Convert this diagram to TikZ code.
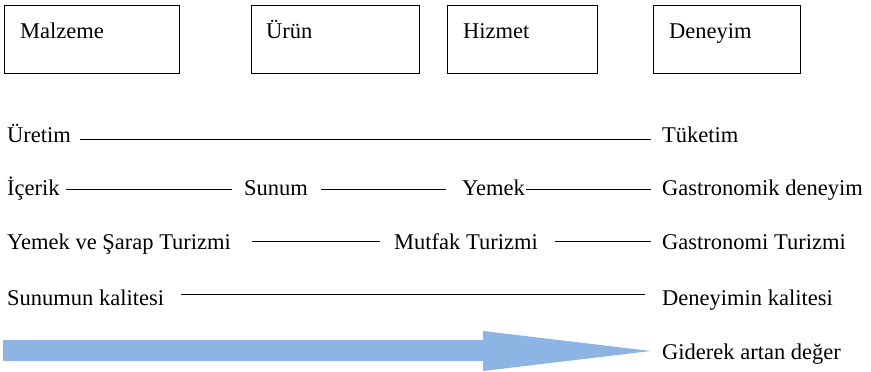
\documentclass[tikz,border=0pt]{standalone}
\usepackage{fontspec}
\setmainfont{Liberation Serif}
\begin{document}
\begin{tikzpicture}[x=1pt,y=-1pt,
  every node/.style={font=\fontsize{22.5}{26}\selectfont, inner sep=0pt, text height=15pt, text depth=4pt},
  stagebox/.style={draw, line width=1.1pt, minimum width=#1, minimum height=68pt, anchor=north west},
  lbl/.style={anchor=base west},
  rule/.style={line width=1.3pt},
  valuearrow/.style={fill={rgb,255:red,142;green,180;blue,227}, draw=none}
]
\useasboundingbox (0,0) rectangle (871,372);

% Stage boxes
\node[stagebox=175pt] (bMalzeme) at (4,5) {};
\node[stagebox=168pt] (bUrun)    at (251,5) {};
\node[stagebox=150pt] (bHizmet)  at (447,5) {};
\node[stagebox=147pt] (bDeneyim) at (653,5) {};
\node[lbl] (tMalzeme) at (20,38) {Malzeme};
\node[lbl] (tUrun)    at (266,38) {Ürün};
\node[lbl] (tHizmet)  at (463,38) {Hizmet};
\node[lbl] (tDeneyim) at (669,38) {Deneyim};

% Row 1
\node[lbl] (uretim)  at (7,142) {Üretim};
\node[lbl] (tuketim) at (662,142) {Tüketim};
\draw[rule] ([xshift=9pt,yshift=-3pt]uretim.east) -- ([xshift=-11pt,yshift=-3pt]tuketim.west);

% Row 2
\node[lbl] (icerik) at (7,195) {İçerik};
\node[lbl] (sunum)  at (244,195) {Sunum};
\node[lbl] (yemek)  at (462,195) {Yemek};
\node[lbl] (gastrodeneyim) at (662,195) {Gastronomik deneyim};
\draw[rule] ([xshift=6pt]icerik.east) -- ([xshift=-12pt]sunum.west);
\draw[rule] ([xshift=13pt]sunum.east) -- ([xshift=-16pt]yemek.west);
\draw[rule] ([xshift=1pt]yemek.east) -- ([xshift=-11pt]gastrodeneyim.west);

% Row 3
\node[lbl] (yemeksarap) at (7,249) {Yemek ve Şarap Turizmi};
\node[lbl] (mutfak)     at (394,249) {Mutfak Turizmi};
\node[lbl] (gastroturizm) at (662,249) {Gastronomi Turizmi};
\draw[rule] ([xshift=21pt,yshift=2pt]yemeksarap.east) -- ([xshift=-14pt,yshift=2pt]mutfak.west);
\draw[rule] ([xshift=17pt,yshift=2pt]mutfak.east) -- ([xshift=-11pt,yshift=2pt]gastroturizm.west);

% Row 4
\node[lbl] (sunumkalite)   at (7,305) {Sunumun kalitesi};
\node[lbl] (deneyimkalite) at (662,305) {Deneyimin kalitesi};
\draw[rule] ([xshift=17pt,yshift=5pt]sunumkalite.east) -- ([xshift=-17pt,yshift=5pt]deneyimkalite.west);

% Increasing value arrow
\node[lbl] (deger) at (662,359) {Giderek artan değer};
\coordinate (tip) at (651,351);
\fill[valuearrow] (3,340) -- (483,340) -- (483,331) -- (tip) -- (483,371) -- (483,361) -- (3,361) -- cycle;
\end{tikzpicture}
\end{document}
